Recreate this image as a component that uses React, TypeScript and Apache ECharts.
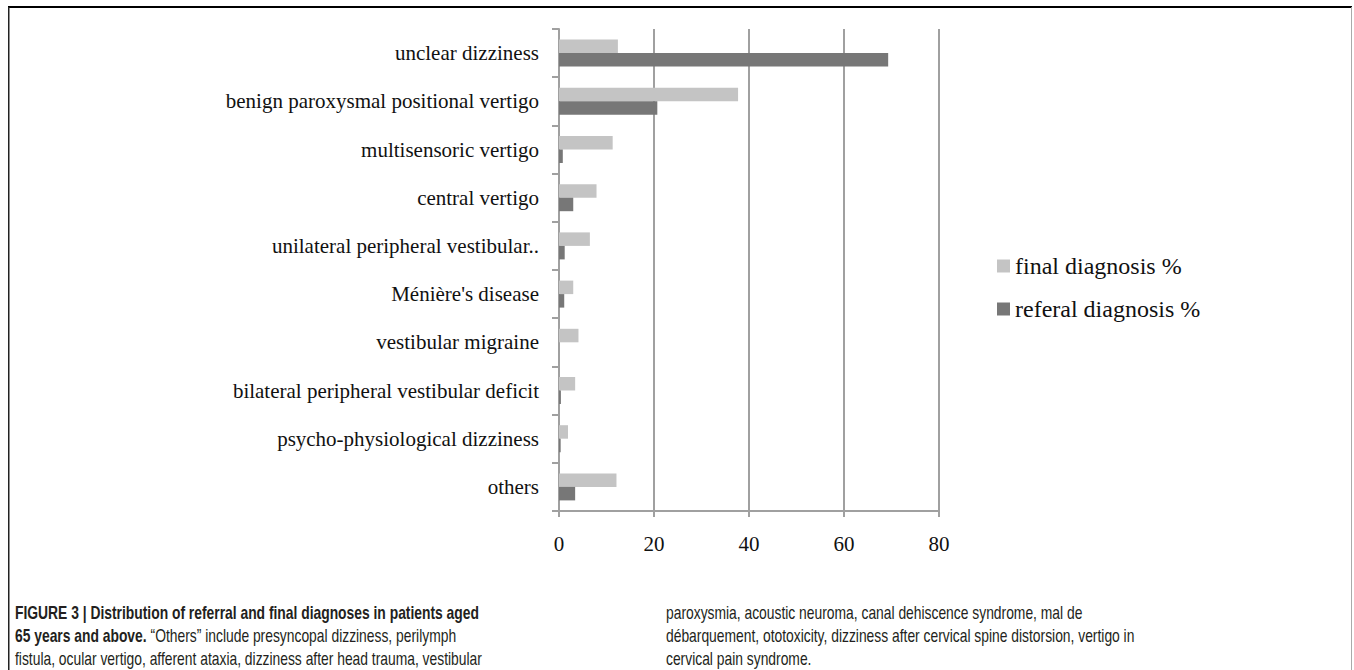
import React, { useEffect, useRef } from "react";
import * as echarts from "echarts";

const categories = [
  "unclear dizziness",
  "benign paroxysmal positional vertigo",
  "multisensoric vertigo",
  "central vertigo",
  "unilateral peripheral vestibular..",
  "Ménière's disease",
  "vestibular migraine",
  "bilateral peripheral vestibular deficit",
  "psycho-physiological dizziness",
  "others",
];
const finalDiagnosis = [12.4, 37.7, 11.3, 7.9, 6.5, 3.0, 4.1, 3.4, 1.9, 12.1];
const referalDiagnosis = [69.3, 20.7, 0.8, 3.0, 1.2, 1.1, 0, 0.4, 0.35, 3.4];
const xTicks = { min: 0, max: 80, interval: 20 };

const captionLeft = [
  "{b|FIGURE 3 | Distribution of referral and final diagnoses in patients aged}",
  "{b|65 years and above.} “Others” include presyncopal dizziness, perilymph",
  "fistula, ocular vertigo, afferent ataxia, dizziness after head trauma, vestibular",
];
const captionRight = [
  "paroxysmia, acoustic neuroma, canal dehiscence syndrome, mal de",
  "débarquement, ototoxicity, dizziness after cervical spine distorsion, vertigo in",
  "cervical pain syndrome.",
];

const SERIF = '"Liberation Serif", "Times New Roman", serif';
const SANS = '"Liberation Sans", Arial, sans-serif';

export default function App() {
  const ref = useRef<HTMLDivElement>(null);
  useEffect(() => {
    if (!ref.current) return;
    const chart = echarts.init(ref.current, null, { renderer: "svg" });
    const capStyle = (text: string) => ({
      text,
      fontSize: 18,
      fontFamily: SANS,
      fill: "#231f20",
      verticalAlign: "middle",
      rich: {
        b: { fontSize: 18, fontFamily: SANS, fontWeight: "bold", fill: "#231f20" },
      },
    });
    const lineYs = [612, 635, 658];
    const graphics: any[] = [
      { type: "rect", shape: { x: 8, y: 6, width: 1344, height: 2 }, style: { fill: "#000" } },
      { type: "rect", shape: { x: 8, y: 7, width: 1.5, height: 663 }, style: { fill: "#222" } },
      { type: "rect", shape: { x: 1351, y: 7, width: 1, height: 663 }, style: { fill: "#aaa" } },
    ];
    captionLeft.forEach((t, i) =>
      graphics.push({ type: "text", x: 15, y: lineYs[i], scaleX: 0.77, style: capStyle(t) })
    );
    captionRight.forEach((t, i) =>
      graphics.push({ type: "text", x: 666, y: lineYs[i], scaleX: 0.77, style: capStyle(t) })
    );

    chart.setOption({
      animation: false,
      backgroundColor: "#fff",
      grid: { left: 559, top: 29, width: 380, height: 482, containLabel: false },
      legend: {
        orient: "vertical",
        left: 992,
        top: 249,
        itemWidth: 13,
        itemHeight: 13,
        itemGap: 19,
        icon: "rect",
        textStyle: { fontFamily: SERIF, fontSize: 24, color: "#111" },
        data: ["final diagnosis %", "referal diagnosis %"],
      },
      xAxis: {
        type: "value",
        min: xTicks.min,
        max: xTicks.max,
        interval: xTicks.interval,
        axisLine: { show: true, lineStyle: { color: "#a0a0a0", width: 2 } },
        axisTick: { show: true, length: 6, lineStyle: { color: "#a0a0a0", width: 2 } },
        splitLine: { show: true, lineStyle: { color: "#a0a0a0", width: 2 } },
        axisLabel: { fontFamily: SERIF, fontSize: 21, color: "#111", margin: 22 },
      },
      yAxis: {
        type: "category",
        inverse: true,
        data: categories,
        axisLine: { show: true, lineStyle: { color: "#a0a0a0", width: 2 } },
        axisTick: { show: true, length: 7, lineStyle: { color: "#a0a0a0", width: 2 } },
        axisLabel: { fontFamily: SERIF, fontSize: 21, color: "#111", margin: 20 },
      },
      series: [
        {
          name: "final diagnosis %",
          type: "bar",
          data: finalDiagnosis,
          barWidth: 13.5,
          barGap: "0%",
          itemStyle: { color: "#c4c4c4" },
        },
        {
          name: "referal diagnosis %",
          type: "bar",
          data: referalDiagnosis,
          barWidth: 13.5,
          barGap: "0%",
          itemStyle: { color: "#777777" },
        },
      ],
      graphic: graphics,
    });
    return () => chart.dispose();
  }, []);
  return (
    <div
      ref={ref}
      style={{ position: "absolute", left: 0, top: 0, width: 1354, height: 670 }}
    />
  );
}
